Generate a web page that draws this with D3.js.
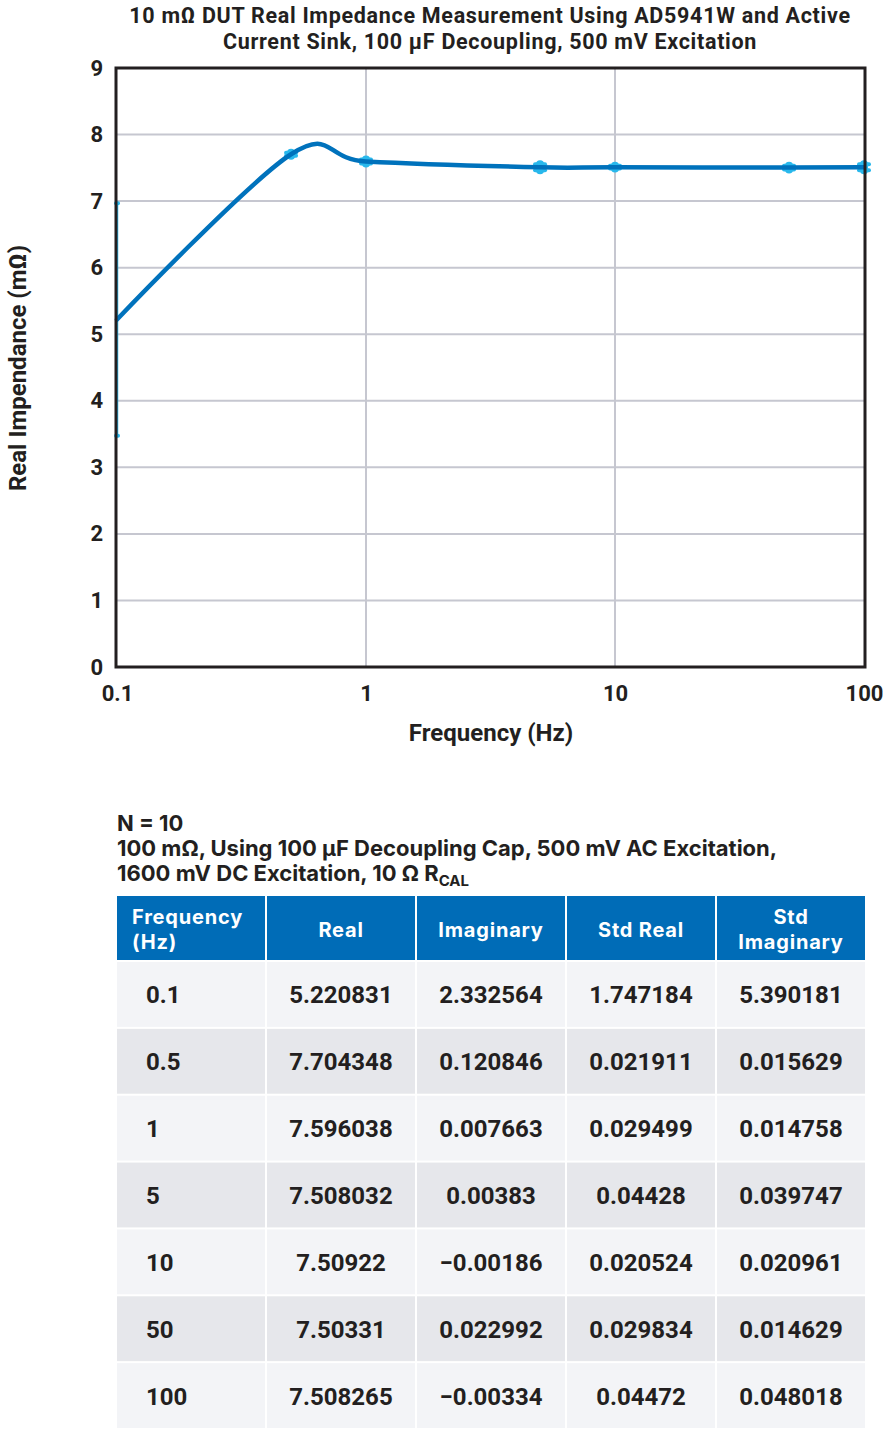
<!DOCTYPE html>
<html>
<head>
<meta charset="utf-8">
<script src="https://cdn.jsdelivr.net/npm/d3@7"></script>
<style>
  body { margin: 0; background: #fff; }
  svg { display: block; }
</style>
</head>
<body>
<div id="chart"></div>
<script>
// measured values (N = 10)
var freq      = [0.1, 0.5, 1, 5, 10, 50, 100];
var freqLabel = ["0.1", "0.5", "1", "5", "10", "50", "100"];
var realVals  = [5.220831, 7.704348, 7.596038, 7.508032, 7.50922, 7.50331, 7.508265];
var imagVals  = ["2.332564", "0.120846", "0.007663", "0.00383", "\u22120.00186", "0.022992", "\u22120.00334"];
var stdReal   = [1.747184, 0.021911, 0.029499, 0.04428, 0.020524, 0.029834, 0.04472];
var stdImag   = ["5.390181", "0.015629", "0.014758", "0.039747", "0.020961", "0.014629", "0.048018"];
var realText  = ["5.220831", "7.704348", "7.596038", "7.508032", "7.50922", "7.50331", "7.508265"];
var stdRealText = ["1.747184", "0.021911", "0.029499", "0.04428", "0.020524", "0.029834", "0.04472"];

var xTicks = [0.1, 1, 10, 100];
var yTicks = [0, 1, 2, 3, 4, 5, 6, 7, 8, 9];
var columns = ["Frequency\n(Hz)", "Real", "Imaginary", "Std Real", "Std\nImaginary"];

var width = 887, height = 1433;
var plot = {left: 117, right: 864, top: 68, bottom: 667};

var svg = d3.select("#chart").append("svg")
    .attr("width", width)
    .attr("height", height)
    .style("font-family", "Roboto, sans-serif");

var x = d3.scaleLog().domain([0.1, 100]).range([plot.left, plot.right]);
var y = d3.scaleLinear().domain([0, 9]).range([plot.bottom, plot.top]);

// title
svg.append("text")
    .attr("x", 490).attr("text-anchor", "middle")
    .style("font-size", "21.5px").style("font-weight", "700").style("letter-spacing", "0.7px")
    .attr("fill", "#231f20")
    .selectAll("tspan")
    .data(["10 m\u03A9 DUT Real Impedance Measurement Using AD5941W and Active",
           "Current Sink, 100 \u03BCF Decoupling, 500 mV Excitation"])
    .join("tspan")
    .attr("x", 490)
    .attr("y", function(d, i) { return 23 + i * 25.5; })
    .text(function(d) { return d; });

// grid
svg.append("g").selectAll("line")
    .data(yTicks.slice(1, -1))
    .join("line")
    .attr("x1", plot.left).attr("x2", plot.right)
    .attr("y1", d => y(d)).attr("y2", d => y(d))
    .attr("stroke", "#c6c7d0").attr("stroke-width", 2);
svg.append("g").selectAll("line")
    .data([1, 10])
    .join("line")
    .attr("x1", d => x(d)).attr("x2", d => x(d))
    .attr("y1", plot.top).attr("y2", plot.bottom)
    .attr("stroke", "#c6c7d0").attr("stroke-width", 2);

// error bars (± std real)
var eb = svg.append("g").attr("stroke", "#29b8ec").attr("stroke-linecap", "round");
freq.forEach(function(f, i) {
    var cx = x(f), y0 = y(realVals[i] - stdReal[i]), y1 = y(realVals[i] + stdReal[i]);
    eb.append("line").attr("x1", cx).attr("x2", cx).attr("y1", y0).attr("y2", y1)
        .attr("stroke-width", stdReal[i] > 0.5 ? 2.5 : 8);
    [y0, y1].forEach(function(yy) {
        eb.append("line").attr("x1", cx - (i === 0 ? 1 : 5)).attr("x2", cx + (i === 0 ? 1 : 5))
            .attr("y1", yy).attr("y2", yy).attr("stroke-width", 4);
    });
});

// smoothed line
var line = d3.line()
    .x(function(d, i) { return x(freq[i]); })
    .y(function(d) { return y(d); })
    .curve(d3.curveCardinal.tension(0));
svg.append("path")
    .datum(realVals)
    .attr("d", line)
    .attr("fill", "none")
    .attr("stroke", "#0072bc")
    .attr("stroke-width", 4.5)
    .attr("stroke-linecap", "round");

// frame
svg.append("rect")
    .attr("x", plot.left - 1).attr("y", plot.top)
    .attr("width", plot.right - plot.left + 2).attr("height", plot.bottom - plot.top)
    .attr("fill", "none").attr("stroke", "#231f20").attr("stroke-width", 3);

// axes labels
var yAxis = d3.axisLeft(y).tickValues(yTicks).tickSize(0).tickPadding(12).tickFormat(d3.format("d"));
var yG = svg.append("g").attr("transform", "translate(" + (plot.left - 2) + ",0)").call(yAxis);
var xAxis = d3.axisBottom(x).tickValues(xTicks).tickSize(0).tickPadding(18).tickFormat(d => String(d));
var xG = svg.append("g").attr("transform", "translate(0," + plot.bottom + ")").call(xAxis);
[yG, xG].forEach(function(g) {
    g.select(".domain").remove();
    g.selectAll("text").style("font-family", "Roboto, sans-serif")
        .style("font-size", "22px").style("font-weight", "700").attr("fill", "#231f20");
});

svg.append("text")
    .attr("transform", "translate(26,368) rotate(-90)")
    .attr("text-anchor", "middle")
    .style("font-size", "24px").style("font-weight", "700").attr("fill", "#231f20")
    .text("Real Impendance (m\u03A9)");
svg.append("text")
    .attr("x", 491).attr("y", 741).attr("text-anchor", "middle")
    .style("font-size", "24px").style("font-weight", "700").attr("fill", "#231f20")
    .text("Frequency (Hz)");

// table caption
var cap = svg.append("text")
    .style("font-family", "Inter, sans-serif")
    .style("font-size", "22px").style("font-weight", "700").attr("fill", "#231f20");
cap.append("tspan").attr("x", 117).attr("y", 831).text("N = 10");
cap.append("tspan").attr("x", 117).attr("y", 856)
    .text("100 m\u03A9, Using 100 \u03BCF Decoupling Cap, 500 mV AC Excitation,");
cap.append("tspan").attr("x", 117).attr("y", 881).text("1600 mV DC Excitation, 10 \u03A9 R");
cap.append("tspan").attr("dy", 5).style("font-size", "15px").text("CAL");

// table
var colX = d3.scaleBand().domain(columns).range([116, 866]);
var rowY = d3.scaleBand().domain(freqLabel).range([961, 1429]);
var headTop = 896, headBottom = 961;

var head = svg.append("g");
head.selectAll("rect").data(columns).join("rect")
    .attr("x", d => colX(d) + 1).attr("y", headTop)
    .attr("width", colX.bandwidth() - 2).attr("height", headBottom - headTop - 1)
    .attr("fill", "#006cb7");
head.selectAll("text").data(columns).join("text")
    .attr("text-anchor", (d, i) => i === 0 ? "start" : "middle")
    .style("font-family", "Inter, sans-serif")
    .style("font-size", "20px").style("font-weight", "700").style("letter-spacing", "0.8px")
    .attr("fill", "#fff")
    .each(function(d, i) {
        var parts = d.split("\n");
        var tx = i === 0 ? colX(d) + 16 : colX(d) + colX.bandwidth() / 2;
        var base = (headTop + headBottom) / 2 + 8 - (parts.length - 1) * 12.5;
        d3.select(this).selectAll("tspan").data(parts).join("tspan")
            .attr("x", tx).attr("y", (p, j) => base + j * 25).text(p => p);
    });

var rows = freqLabel.map(function(f, i) {
    return [f, realText[i], imagVals[i], stdRealText[i], stdImag[i]];
});
var body = svg.append("g");
rows.forEach(function(r, i) {
    var ry = rowY(freqLabel[i]);
    columns.forEach(function(c, j) {
        body.append("rect")
            .attr("x", colX(c) + 1).attr("y", ry + 1)
            .attr("width", colX.bandwidth() - 2).attr("height", rowY.bandwidth() - 2)
            .attr("fill", i % 2 === 0 ? "#f3f4f7" : "#e6e7eb");
        body.append("text")
            .attr("x", j === 0 ? colX(c) + 30 : colX(c) + colX.bandwidth() / 2)
            .attr("y", ry + rowY.bandwidth() / 2 + 9)
            .attr("text-anchor", j === 0 ? "start" : "middle")
            .style("font-size", "24px").style("font-weight", "700").attr("fill", "#231f20")
            .text(r[j]);
    });
});
</script>
</body>
</html>
